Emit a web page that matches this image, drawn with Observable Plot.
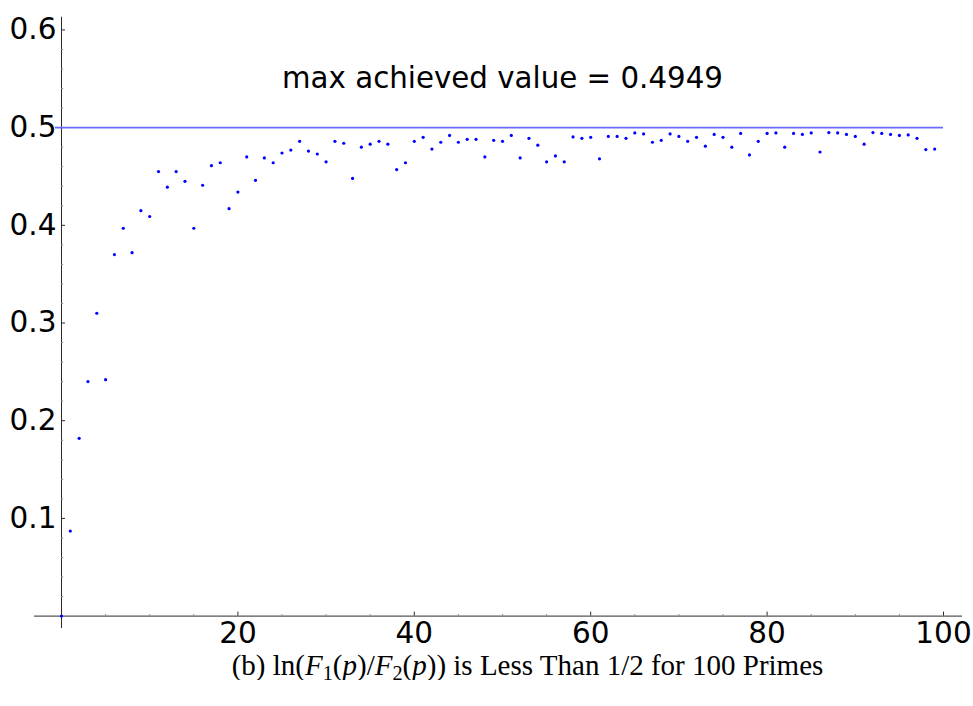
<!DOCTYPE html>
<html>
<head>
<meta charset="utf-8">
<script src="https://cdn.jsdelivr.net/npm/d3@7"></script>
<script src="https://cdn.jsdelivr.net/npm/@observablehq/plot@0.6"></script>
<style>
  body { margin: 0; background: #fff; }
  #chart svg { display: block; }
  #cap { font-family: "Liberation Serif", "DejaVu Serif", serif; font-size: 29px; text-align: center; width: 973px; box-sizing: border-box; padding-left: 82px; line-height: 29px; margin-top: 3px; color: #000; }
  #cap sub { font-size: 0.7em; line-height: 0; vertical-align: -0.25em; }
</style>
</head>
<body>
<div id="chart"></div>
<div id="cap">(b) ln(<i>F</i><sub>1</sub>(<i>p</i>)/<i>F</i><sub>2</sub>(<i>p</i>)) is Less Than 1/2 for 100 Primes</div>
<script>
// ---- data ----
const ratioValues = [
  0, 0.087, 0.182, 0.240, 0.310, 0.242, 0.370, 0.397, 0.372, 0.415,
  0.409, 0.455, 0.439, 0.455, 0.445, 0.397, 0.441, 0.461, 0.464, 0.417,
  0.434, 0.470, 0.446, 0.469, 0.464, 0.474, 0.477, 0.486, 0.476, 0.473,
  0.465, 0.486, 0.484, 0.448, 0.480, 0.483, 0.486, 0.483, 0.457, 0.464,
  0.486, 0.490, 0.478, 0.485, 0.492, 0.485, 0.488, 0.488, 0.470, 0.487,
  0.486, 0.492, 0.469, 0.489, 0.482, 0.465, 0.471, 0.465, 0.4905, 0.489,
  0.490, 0.468, 0.491, 0.491, 0.489, 0.4945, 0.4935, 0.485, 0.487, 0.4935,
  0.491, 0.486, 0.490, 0.481, 0.493, 0.490, 0.480, 0.494, 0.472, 0.486,
  0.494, 0.4945, 0.480, 0.494, 0.493, 0.4945, 0.475, 0.4949, 0.4945, 0.493,
  0.491, 0.483, 0.4949, 0.494, 0.493, 0.492, 0.4925, 0.489, 0.4775, 0.478
];
const primeIndex = ratioValues.map((_, i) => i);
const boundValue = 0.5;
const annotationText = "max achieved value = 0.4949";
const xTickLabels = [20, 40, 60, 80, 100];
const xMinorTicks = [5, 10, 15, 25, 30, 35, 45, 50, 55, 65, 70, 75, 85, 90, 95];
const yTickLabels = [0.1, 0.2, 0.3, 0.4, 0.5, 0.6];
const yMinorTicks = d3.range(1, 31).map(i => +(i * 0.02).toFixed(2)).filter(v => !yTickLabels.some(t => Math.abs(t - v) < 1e-9));

const points = primeIndex.map((i) => ({ x: i, y: ratioValues[i] }));

// ---- layout constants (pixels) ----
const W = 973, H = 648;
const pxPerX = 8.82, pxPerY = 977;
const xAxisLeft = 34, xAxisRight = 962, originX = 61;
const yAxisTop = 16.7, yAxisBottom = 628, originY = 615.6;
const xDomain = [(xAxisLeft - originX) / pxPerX, (xAxisRight - originX) / pxPerX];
const yDomain = [(originY - yAxisBottom) / pxPerY, (originY - yAxisTop) / pxPerY];
const axisColor = "#2b2b2b";
const font = "DejaVu Sans, sans-serif";

const chart = Plot.plot({
  width: W,
  height: H,
  marginLeft: xAxisLeft,
  marginRight: W - xAxisRight,
  marginTop: yAxisTop,
  marginBottom: H - yAxisBottom,
  style: { fontFamily: font, background: "#fff", color: "#000", overflow: "visible" },
  x: { domain: xDomain, axis: null },
  y: { domain: yDomain, axis: null },
  marks: [
    // axis lines through origin
    Plot.ruleY([0], { stroke: axisColor, strokeWidth: 1 }),
    Plot.ruleX([0], { stroke: axisColor, strokeWidth: 1 }),
    // x ticks
    Plot.ruleX(xTickLabels, { x: d => d, y1: 0, y2: 4 / pxPerY, stroke: axisColor }),
    Plot.ruleX(xMinorTicks, { x: d => d, y1: 0, y2: 1.6 / pxPerY, stroke: "#888" }),
    Plot.text(xTickLabels, { x: d => d, y: 0, text: d => String(d), lineAnchor: "top", dy: 5.5, fontSize: 29.5, fill: "#000" }),
    // y ticks
    Plot.ruleY(yTickLabels, { y: d => d, x1: 0, x2: 4 / pxPerX, stroke: axisColor }),
    Plot.ruleY(yMinorTicks, { y: d => d, x1: 0, x2: 2.2 / pxPerX, stroke: "#888" }),
    Plot.text(yTickLabels, { x: 0, y: d => d, text: d => d3.format(".1f")(d), textAnchor: "end", dx: -5, fontSize: 29.5, fill: "#000" }),
    // bound line
    Plot.ruleY([boundValue], { x1: -0.7, x2: 100, stroke: "#6a6aff", strokeWidth: 1.6 }),
    // data points
    Plot.dot(points, { x: "x", y: "y", r: 1.6, fill: "#0000ff", stroke: null }),
    // annotation
    Plot.text([annotationText], { x: 50, y: 0.55, text: d => d, fontSize: 29.3, fill: "#000", textAnchor: "middle" })
  ]
});
document.getElementById("chart").appendChild(chart);
</script>
</body>
</html>
